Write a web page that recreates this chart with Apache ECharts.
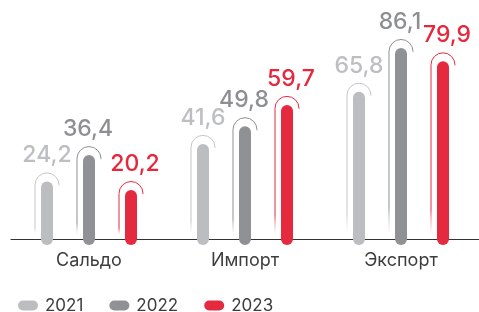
<!DOCTYPE html>
<html>
<head>
<meta charset="utf-8">
<style>
  html, body { margin: 0; padding: 0; background: #fff; }
  #chart { width: 479px; height: 312px; }
</style>
<script src="https://cdn.jsdelivr.net/npm/echarts@6/dist/echarts.min.js"></script>
</head>
<body>
<div id="chart"></div>
<script>
const categories = ['Сальдо', 'Импорт', 'Экспорт']
const years = ['2021', '2022', '2023']
const values2021 = [24.2, 41.6, 65.8]
const values2022 = [36.4, 49.8, 86.1]
const values2023 = [20.2, 59.7, 79.9]

const Y_MIN = -5.3
const Y_MAX = 100

const styles = [
  { bar: '#bcbdc0', arc: '#c4c5c8', label: '#bdbec1', offset: -42, dx: 0 },
  { bar: '#909195', arc: '#8e8f93', label: '#8e8f92', offset: 0, dx: -1 },
  { bar: '#e52a40', arc: '#e8283f', label: '#e5283e', offset: 42, dx: 4 }
]

function makeRender(s) {
  return function (params, api) {
    const v = api.value(1)
    const p = api.coord([api.value(0), v])
    const base = api.coord([api.value(0), Y_MIN])
    const cx = p[0] + s.offset
    const top = p[1]
    const axisY = base[1] - 6
    const r = 12
    const cy = top + 3.5
    return {
      type: 'group',
      children: [
        {
          type: 'rect',
          shape: { x: cx - 6, y: top, width: 12, height: base[1] - top, r: 6 },
          style: { fill: s.bar }
        },
        {
          type: 'line',
          shape: { x1: cx - r, y1: cy, x2: cx - r, y2: axisY - 5 },
          style: {
            stroke: new echarts.graphic.LinearGradient(0, 0, 0, 1, [
              { offset: 0, color: s.arc },
              { offset: 0.85, color: s.arc },
              { offset: 1, color: 'rgba(255,255,255,0.6)' }
            ]),
            lineWidth: 1
          }
        },
        {
          type: 'arc',
          shape: { cx: cx, cy: cy, r: r, startAngle: Math.PI, endAngle: Math.PI * 2 + 0.05, clockwise: true },
          style: { stroke: s.arc, fill: null, lineWidth: 1 }
        },
        {
          type: 'text',
          x: cx + s.dx,
          y: top - 26,
          style: {
            text: String(v).replace('.', ','),
            fill: s.label,
            font: '500 23px Inter',
            align: 'center',
            verticalAlign: 'middle'
          }
        }
      ]
    }
  }
}

const chart = echarts.init(document.getElementById('chart'))
const seriesValues = [values2021, values2022, values2023]

chart.setOption({
  animation: false,
  grid: { left: 11, right: 0, top: 18, bottom: 67 },
  legend: {
    left: 13,
    top: 292,
    itemWidth: 20,
    itemHeight: 10,
    itemGap: 26,
    icon: 'path://M5,0 L15,0 A5,5 0 0 1 15,10 L5,10 A5,5 0 0 1 5,0 Z',
    textStyle: { color: '#3d3d3d', fontSize: 17, fontFamily: 'Inter', padding: [0, 0, 0, 2] },
    data: years
  },
  xAxis: {
    type: 'category',
    data: categories,
    offset: -6,
    axisLine: { onZero: false, lineStyle: { color: '#333', width: 1 } },
    axisTick: { show: false },
    axisLabel: { color: '#3d3d3d', fontSize: 18, fontFamily: 'Inter', margin: 13 }
  },
  yAxis: {
    type: 'value',
    min: Y_MIN,
    max: Y_MAX,
    show: false,
    splitLine: { show: false }
  },
  series: years.map((y, i) => ({
    name: y,
    type: 'custom',
    itemStyle: { color: styles[i].bar },
    data: seriesValues[i].map((v, j) => [j, v]),
    renderItem: makeRender(styles[i])
  }))
})
</script>
</body>
</html>
